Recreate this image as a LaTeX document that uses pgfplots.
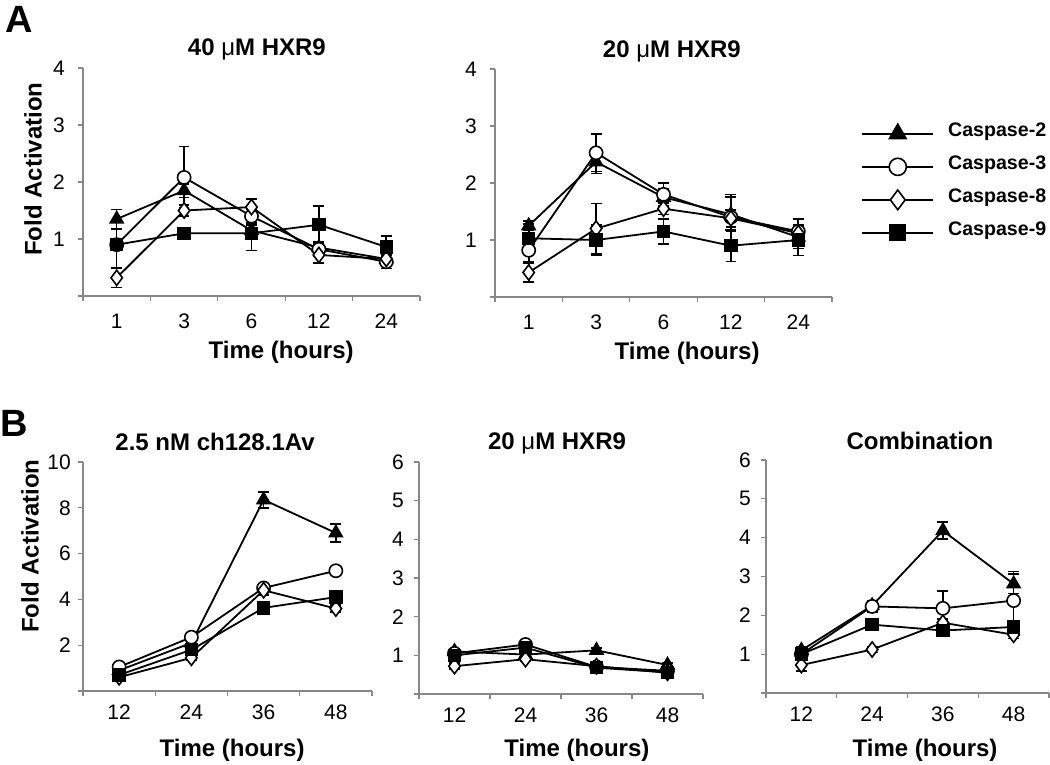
\documentclass[border=0pt]{standalone}
\usepackage{fontspec}
\setmainfont{Liberation Sans}
\usepackage{pgfplots}
\pgfplotsset{compat=1.18}
\definecolor{axisgray}{HTML}{878787}

\newcommand\lblfont{\bfseries\fontsize{12}{14}\selectfont}
\newcommand\legfont{\bfseries\fontsize{9.8}{12}\selectfont}
\newcommand\umu{{\mdseries μ}}
\pgfplotsset{
  panel/.style={
    scale only axis, clip=false,
    axis lines*=left,
    axis line style={draw=axisgray, line width=0.55pt},
    tick align=outside,
    major tick length=2.6pt, minor tick length=2.6pt,
    major x tick style={draw=none},
    minor x tick style={draw=axisgray, line width=0.55pt},
    y tick style={draw=axisgray, line width=0.55pt},
    tick label style={font=\fontsize{10.5}{12}\selectfont},
    /pgf/number format/assume math mode=true,
    title style={font=\lblfont, anchor=center},
    label style={font=\lblfont, anchor=center},
    ymin=0,
    error bars/y dir=both, error bars/y explicit,
    error bars/error mark options={rotate=90, mark size=2.7pt, line width=0.8pt, black},
    error bars/error bar style={line width=0.8pt, black},
  },
  apanel/.style={panel, width=168.5pt, height=114pt,
    xmin=-0.5, xmax=4.5, ymax=4,
    xtick={0,...,4}, xticklabels={1,3,6,12,24},
    minor xtick={-0.5,0.5,...,4.5},
    ytick={0,...,4}, yticklabels={,1,2,3,4},
    xticklabel style={yshift=-3pt}, yticklabel style={xshift=-3pt}},
  bpanel/.style={panel,
    xmin=-0.5, xmax=3.5,
    xtick={0,...,3}, xticklabels={12,24,36,48},
    minor xtick={-0.5,0.5,...,3.5},
    xticklabel style={yshift=-1pt}},
  c2/.style={black, line width=0.9pt, mark=triangle*, mark size=3.8pt,
    mark options={solid, fill=black, line width=0.7pt}},
  c3/.style={black, line width=0.9pt, mark=*, mark size=3.3pt,
    mark options={solid, fill=white, line width=0.8pt}},
  c8/.style={black, line width=0.9pt, mark=diamond*, mark size=3.8pt,
    mark options={solid, fill=white, line width=0.8pt}},
  c9/.style={black, line width=0.9pt, mark=square*, mark size=3.0pt,
    mark options={solid, fill=black, line width=0.7pt}},
}

\begin{document}
\begin{tikzpicture}
\path[use as bounding box] (0,0) rectangle (525pt,-382.5pt);

\node[font=\bfseries\fontsize{19}{20}\selectfont] at (9.5pt,-9.5pt) {A};
\node[font=\bfseries\fontsize{19}{20}\selectfont] at (7pt,-211.5pt) {B};

% A: 40 uM HXR9
\begin{axis}[apanel, at={(41.5pt,-148pt)}, anchor=south west,
  title={40 \umu M HXR9},
  title style={at={(axis description cs:0.516,1.03)}},
  xlabel={Time (hours)},
  xlabel style={at={(axis description cs:0.588,-0.246)}},
  ylabel={Fold Activation},
  ylabel style={at={(axis description cs:-0.148,0.557)}, rotate=0}]
\addplot[c2] coordinates {(0,1.35) +- (0,0.17) (1,1.85) +- (0,0.12) (2,1.15) +- (0,0.1) (3,0.85) +- (0,0.1) (4,0.65) +- (0,0.08)};
\addplot[c3] coordinates {(0,0.9) +- (0,0.1) (1,2.08) +- (0,0.54) (2,1.4) +- (0,0.12) (3,0.82) +- (0,0.12) (4,0.6) +- (0,0.12)};
\addplot[c8] coordinates {(0,0.32) +- (0,0.17) (1,1.5) +- (0,0.1) (2,1.56) +- (0,0.14) (3,0.72) +- (0,0.14) (4,0.65) +- (0,0.1)};
\addplot[c9] coordinates {(0,0.9) +- (0,0.42) (1,1.1) +- (0,0.1) (2,1.1) +- (0,0.3) (3,1.25) +- (0,0.33) (4,0.86) +- (0,0.19)};
\end{axis}

% A: 20 uM HXR9 with legend
\begin{axis}[apanel, at={(247.5pt,-148.5pt)}, anchor=south west,
  title={20 \umu M HXR9},
  title style={at={(axis description cs:0.525,1.025)}},
  xlabel={Time (hours)},
  xlabel style={at={(axis description cs:0.57,-0.246)}},
  legend style={at={(axis description cs:1.086,0.77)}, anchor=north west,
    draw=none, fill=none, inner sep=0pt, row sep=4.5pt,
    nodes={inner sep=0pt, text height=7.5pt, text depth=4.5pt},
    /tikz/every odd column/.append style={column sep=7pt}},
  legend cell align=left,
  legend image code/.code={\draw[mark repeat=2, mark phase=2, #1,
      every mark/.append style={scale=1.3}]
      plot coordinates {(0pt,0pt) (17.75pt,0pt) (35.5pt,0pt)};}]
\addplot[c2] coordinates {(0,1.25) +- (0,0.08) (1,2.37) +- (0,0.2) (2,1.75) +- (0,0.15) (3,1.45) +- (0,0.3) (4,1.05) +- (0,0.2)};
\addlegendentry{\legfont Caspase-2}
\addplot[c3] coordinates {(0,0.82) +- (0,0.2) (1,2.53) +- (0,0.33) (2,1.8) +- (0,0.2) (3,1.4) +- (0,0.4) (4,1.15) +- (0,0.22)};
\addlegendentry{\legfont Caspase-3}
\addplot[c8] coordinates {(0,0.43) +- (0,0.17) (1,1.2) +- (0,0.44) (2,1.55) +- (0,0.1) (3,1.38) +- (0,0.15) (4,1.12) +- (0,0.1)};
\addlegendentry{\legfont Caspase-8}
\addplot[c9] coordinates {(0,1.03) +- (0,0.25) (1,1.0) +- (0,0.26) (2,1.15) +- (0,0.22) (3,0.9) +- (0,0.28) (4,1.0) +- (0,0.27)};
\addlegendentry{\legfont Caspase-9}
\end{axis}

% B: 2.5 nM ch128.1Av
\begin{axis}[bpanel, at={(41.5pt,-345.5pt)}, anchor=south west,
  width=144.5pt, height=114.5pt, ymax=10,
  ytick={0,2,...,10}, yticklabels={,2,4,6,8,10},
  title={2.5 nM ch128.1Av},
  title style={at={(axis description cs:0.457,1.035)}},
  xlabel={Time (hours)},
  xlabel style={at={(axis description cs:0.516,-0.258)}},
  ylabel={Fold Activation},
  ylabel style={at={(axis description cs:-0.183,0.633)}, rotate=0}]
\addplot[c2] coordinates {(0,0.9) +- (0,0.1) (1,2.1) +- (0,0.15) (2,8.35) +- (0,0.35) (3,6.9) +- (0,0.4)};
\addplot[c3] coordinates {(0,1.05) +- (0,0.1) (1,2.35) +- (0,0.1) (2,4.5) +- (0,0.2) (3,5.25) +- (0,0.15)};
\addplot[c8] coordinates {(0,0.6) +- (0,0.1) (1,1.45) +- (0,0.1) (2,4.4) +- (0,0.2) (3,3.6) +- (0,0.15)};
\addplot[c9] coordinates {(0,0.7) +- (0,0.1) (1,1.8) +- (0,0.1) (2,3.63) +- (0,0.15) (3,4.1) +- (0,0.15)};
\end{axis}

% B: 20 uM HXR9
\begin{axis}[bpanel, at={(209.5pt,-347pt)}, anchor=south west,
  width=142pt, height=116pt, ymax=6,
  ytick={0,...,6}, yticklabels={,1,2,3,4,5,6},
  yticklabel style={xshift=-1.5pt},
  title={20 \umu M HXR9},
  title style={at={(axis description cs:0.486,1.03)}},
  xlabel={Time (hours)},
  xlabel style={at={(axis description cs:0.556,-0.241)}}]
\addplot[c2] coordinates {(0,1.1) +- (0,0.06) (1,1.02) +- (0,0.06) (2,1.13) +- (0,0.06) (3,0.75) +- (0,0.05)};
\addplot[c3] coordinates {(0,1.05) +- (0,0.06) (1,1.28) +- (0,0.06) (2,0.7) +- (0,0.05) (3,0.6) +- (0,0.05)};
\addplot[c8] coordinates {(0,0.72) +- (0,0.08) (1,0.9) +- (0,0.06) (2,0.72) +- (0,0.05) (3,0.55) +- (0,0.06)};
\addplot[c9] coordinates {(0,1.0) +- (0,0.06) (1,1.2) +- (0,0.06) (2,0.68) +- (0,0.05) (3,0.56) +- (0,0.05)};
\end{axis}

% B: Combination
\begin{axis}[bpanel, at={(383pt,-346.5pt)}, anchor=south west,
  width=141.5pt, height=116.5pt, ymax=6,
  ytick={0,...,6}, yticklabels={,1,2,3,4,5,6},
  yticklabel style={xshift=-1.5pt},
  title={Combination},
  title style={at={(axis description cs:0.544,1.03)}},
  xlabel={Time (hours)},
  xlabel style={at={(axis description cs:0.562,-0.245)}}]
\addplot[c2] coordinates {(0,1.1) +- (0,0.08) (1,2.25) +- (0,0.12) (2,4.18) +- (0,0.22) (3,2.81) +- (0,0.25)};
\addplot[c3] coordinates {(0,1.0) +- (0,0.08) (1,2.23) +- (0,0.15) (2,2.18) +- (0,0.45) (3,2.38) +- (0,0.75)};
\addplot[c8] coordinates {(0,0.72) +- (0,0.15) (1,1.12) +- (0,0.08) (2,1.81) +- (0,0.1) (3,1.5) +- (0,0.1)};
\addplot[c9] coordinates {(0,1.0) +- (0,0.08) (1,1.76) +- (0,0.08) (2,1.61) +- (0,0.08) (3,1.7) +- (0,0.1)};
\end{axis}
\end{tikzpicture}
\end{document}
